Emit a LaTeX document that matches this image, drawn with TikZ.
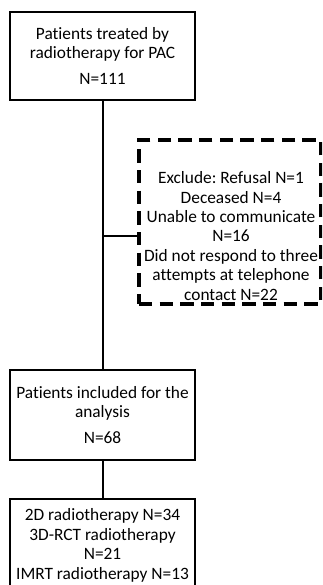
\documentclass[tikz,border=0pt]{standalone}
\usepackage{fontspec}
\setmainfont{Carlito}[Ligatures=NoCommon]
\frenchspacing

\begin{document}
\begin{tikzpicture}[x=0.75pt, y=-0.75pt,
block/.style={rectangle, draw, line width=1.5pt, minimum width=138.75pt, minimum height=66pt,
      align=center, inner sep=1pt, font=\fontsize{13pt}{14.6pt}\selectfont},
exclbox/.style={rectangle, draw, line width=2.4pt, dash pattern=on 10pt off 5.5pt,
      minimum width=136.5pt, minimum height=123pt},
note/.style={align=center, inner sep=0pt, font=\fontsize{13pt}{14.6pt}\selectfont},
link/.style={line width=1.5pt}]
 \clip (0,0) rectangle (322,585);
 \node[block] (treated) at (102.5,56) {Patients treated by\\ radiotherapy for PAC\\[5pt] N=111};
 \node[block, below of=treated, node distance=269.25pt, minimum height=67.5pt] (included)
      {Patients included for the\\ analysis\\[5pt] N=68};
 \node[block, below of=included, node distance=97.9pt, minimum height=69.75pt] (groups)
      {2D radiotherapy N=34\\ 3D-RCT radiotherapy\\ N=21\\ IMRT radiotherapy N=13};
 \node[exclbox] (frame) at (230,222) {};
 \node[note] (excluded) at (231,236) {Exclude: Refusal N=1\\ Deceased N=4\\ Unable to communicate\\ N=16\\
      Did not respond to three\\ attempts at telephone\\ contact N=22};
 \coordinate (split) at (treated |- excluded);

 \draw[link] (treated) -- (included);
 \draw[link] (split) -- (frame.west |- split);
 \draw[link] (included) -- (groups);

\end{tikzpicture}
\end{document}
